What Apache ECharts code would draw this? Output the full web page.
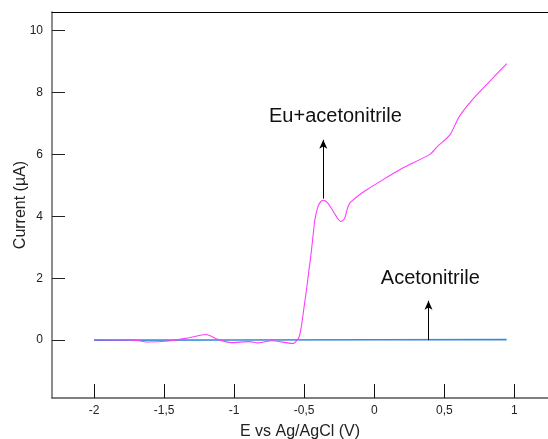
<!DOCTYPE html>
<html>
<head>
<meta charset="utf-8">
<script src="https://cdn.jsdelivr.net/npm/echarts@6/dist/echarts.min.js"></script>
<style>
html,body{margin:0;padding:0;background:#fff;}
#chart{width:548px;height:439px;}
</style>
</head>
<body>
<div id="chart"></div>
<script>
// ---- data ----
var xTicks = [-2, -1.5, -1, -0.5, 0, 0.5, 1];
var yTicks = [0, 2, 4, 6, 8, 10];

var euE = [-2.0, -1.71, -1.62, -1.47, -1.33, -1.2, -1.12, -1.02, -0.89, -0.83, -0.73, -0.58, -0.55, -0.535, -0.52, -0.50, -0.484, -0.465, -0.448, -0.435, -0.424, -0.41, -0.395, -0.38, -0.365, -0.35, -0.33, -0.305, -0.282, -0.26, -0.24, -0.225, -0.21, -0.195, -0.187, -0.175, -0.163, -0.11, -0.056, 0.04, 0.2, 0.396, 0.45, 0.54, 0.6, 0.66, 0.72, 0.824, 0.945];
var euI = [0.01, 0.0, -0.06, -0.03, 0.07, 0.18, 0.03, -0.08, -0.05, -0.09, -0.02, -0.11, 0.0, 0.12, 0.45, 1.1, 1.62, 2.3, 2.91, 3.45, 3.88, 4.18, 4.38, 4.48, 4.52, 4.5, 4.42, 4.25, 4.08, 3.92, 3.83, 3.86, 3.95, 4.2, 4.31, 4.42, 4.48, 4.68, 4.85, 5.12, 5.55, 6.0, 6.25, 6.63, 7.17, 7.55, 7.87, 8.36, 8.93];

var acE = [-2.0, -1.0, 0.0, 0.945];
var acI = [0.0, 0.005, 0.01, 0.015];

var labelNames = ['Eu+acetonitrile', 'Acetonitrile'];
var labelE = [-0.277, 0.40];
var labelI = [7.23, 2.0];

var arrowE = [-0.364, 0.387];
var arrowFrom = [4.57, 0.0];
var arrowTo = [6.47, 1.27];

// ---- build ----
function zip(a, b) { return a.map(function (v, i) { return [v, b[i]]; }); }
var fmt = function (v) { return String(v).replace('.', ','); };
var FONT = 'Liberation Sans, Arial, sans-serif';

var chart = echarts.init(document.getElementById('chart'), null, {renderer: 'canvas'});
chart.setOption({
  animation: false,
  backgroundColor: '#ffffff',
  grid: {left: 52, right: 0, top: 12, bottom: 41, containLabel: false, outerBoundsMode: 'none'},
  xAxis: [{
    type: 'value', min: -2.3, max: 1.24, position: 'bottom',
    name: 'E vs Ag/AgCl (V)', nameLocation: 'middle', nameGap: 26, nameMoveOverlap: false,
    nameTextStyle: {fontSize: 16, color: '#222', fontFamily: FONT},
    axisLine: {onZero: false, lineStyle: {color: '#555', width: 1.5}},
    axisTick: {inside: true, length: 14, customValues: xTicks, lineStyle: {color: '#111', width: 1}},
    axisLabel: {customValues: xTicks, formatter: fmt, fontSize: 12, color: '#222', margin: 7, fontFamily: FONT},
    splitLine: {show: false}
  }, {
    type: 'value', min: -2.3, max: 1.24, position: 'top',
    axisLine: {onZero: false, lineStyle: {color: '#000', width: 1}},
    axisTick: {show: false}, axisLabel: {show: false}, splitLine: {show: false}
  }],
  yAxis: {
    type: 'value', min: -1.87, max: 10.6,
    name: 'Current (µA)', nameLocation: 'middle', nameGap: 23, nameRotate: 90, nameMoveOverlap: false,
    nameTextStyle: {fontSize: 16, color: '#222', fontFamily: FONT},
    axisLine: {onZero: false, lineStyle: {color: '#666', width: 1.5}},
    axisTick: {inside: true, length: 13, customValues: yTicks, lineStyle: {color: '#222', width: 1}},
    axisLabel: {customValues: yTicks, fontSize: 12, color: '#222', margin: 9, fontFamily: FONT},
    splitLine: {show: false}
  },
  series: [{
    name: 'Acetonitrile', type: 'line', data: zip(acE, acI), showSymbol: false,
    lineStyle: {color: '#3b8ad6', width: 1.6}, z: 2
  }, {
    name: 'Eu+acetonitrile', type: 'line', data: zip(euE, euI), showSymbol: false, smooth: 0.25,
    lineStyle: {color: '#ff3dff', width: 1.1}, z: 3,
    markLine: {
      silent: true, animation: false,
      symbol: ['none', 'arrow'], symbolSize: [6, 9],
      label: {show: false},
      lineStyle: {color: '#000', width: 1, type: 'solid'},
      data: arrowE.map(function (e, i) {
        return [{coord: [e, arrowFrom[i]]}, {coord: [e, arrowTo[i]]}];
      })
    },
    markPoint: {
      silent: true, symbol: 'circle', symbolSize: 0,
      label: {show: true, position: 'inside', fontSize: 20, color: '#111', fontFamily: FONT,
              formatter: function (p) { return p.name; }},
      data: labelNames.map(function (n, i) { return {name: n, coord: [labelE[i], labelI[i]]}; })
    }
  }]
});
</script>
</body>
</html>
